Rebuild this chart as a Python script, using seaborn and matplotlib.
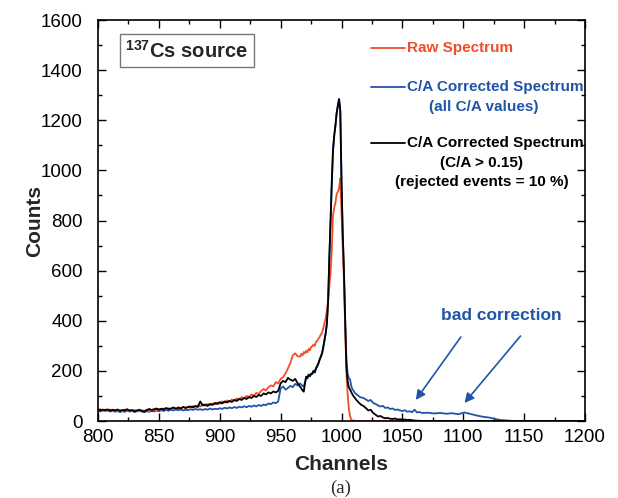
import numpy as np
import pandas as pd
import matplotlib
matplotlib.use("Agg")
import matplotlib.pyplot as plt
from matplotlib.lines import Line2D
from matplotlib.ticker import MultipleLocator
import seaborn as sns

# ---------------- data ----------------
ch_a = list(range(800, 966, 2))
ch_b = list(range(966, 1017, 1))
ch_c = list(range(1018, 1067, 2))
ch_d = list(range(1071, 1197, 5)) + [1200]
channels = ch_a + ch_b + ch_c + ch_d

raw_a = [44, 47, 42,
         45, 42, 46, 40, 44, 38, 43, 41, 46, 40, 43, 39, 44, 41, 38, 43, 40, 45, 39, 44,
         47, 43, 48, 45, 50, 46, 51, 47, 52, 49, 55, 51, 56, 52, 58, 54, 60, 56, 62, 58,
         66, 61, 68, 63, 70, 66, 74, 69, 78, 73, 82, 77, 86, 81, 90, 86, 95, 90, 100, 96,
         106, 101, 112, 108, 120, 128, 122, 135, 142, 138, 155, 150, 168, 175, 190, 210, 232, 262, 270, 258]
raw_b = [257, 268, 262, 275, 270, 280, 274, 288, 282, 295, 298, 305, 300, 315, 320, 328, 335, 345, 352, 370,
         390, 410, 440, 480, 540, 590, 680, 820, 850, 870, 905, 915, 930, 968, 830, 700, 560, 380, 200, 110,
         50, 20, 6, 2, 1, 1, 0, 0, 0, 0, 0]
raw_c = [0] * 25
raw_d = [0] * 27
raw = raw_a + raw_b + raw_c + raw_d

blue_a = [41, 38, 42,
          40, 42, 38, 41, 37, 40, 36, 39, 37, 41, 38, 40, 36, 39, 42, 38, 35, 39, 37, 40,
          38, 42, 39, 43, 40, 44, 41, 45, 42, 46, 43, 46, 42, 45, 43, 47, 44, 48, 45, 47,
          44, 48, 45, 50, 46, 49, 47, 51, 48, 53, 50, 54, 51, 56, 52, 57, 54, 59, 55, 60,
          57, 62, 58, 64, 60, 66, 63, 70, 67, 74, 71, 78, 130, 138, 125, 132, 140, 135, 148, 142]
blue_b = [150, 145, 140, 137, 155, 172, 170, 183, 178, 186, 188, 198, 193, 208, 218, 228, 243, 256, 268, 292,
          320, 348, 388, 478, 645, 795, 945, 1075, 1135, 1175, 1225, 1255, 1280, 1235, 955, 745, 600, 410, 250, 190,
          170, 166, 140, 126, 120, 112, 108, 104, 100, 96, 94]
blue_c = [92, 86, 80, 84, 72, 68, 62, 58, 60, 52, 54, 48, 50, 44, 46, 42, 40, 43, 37, 39,
          35, 45, 34, 36, 32]
blue_d = [33, 30, 32, 29, 31, 27, 34, 28, 22, 17, 14, 8, 4, 2,
          0, 0, 0, 0, 0, 0, 0, 0, 0, 0, 0, 0, 0]
blue = blue_a + blue_b + blue_c + blue_d

black_a = [46, 43, 45,
           44, 46, 41, 45, 42, 46, 40, 44, 42, 47, 41, 44, 38, 42, 45, 40, 38, 43, 48, 44,
           46, 50, 45, 49, 46, 52, 47, 50, 54, 49, 53, 50, 56, 52, 55, 58, 54, 60, 56, 78,
           62, 66, 60, 68, 64, 72, 68, 75, 70, 78, 74, 80, 76, 84, 80, 88, 84, 92, 88, 95,
           92, 100, 96, 104, 100, 110, 106, 114, 110, 118, 114, 120, 150, 160, 155, 172, 165, 160, 168, 150]
black_b = [137, 130, 122, 117, 150, 177, 172, 185, 180, 188, 190, 200, 195, 210, 220, 230, 245, 258, 270, 295,
           323, 350, 390, 480, 650, 800, 950, 1080, 1140, 1180, 1230, 1260, 1285, 1240, 960, 750, 600, 400, 220, 160,
           135, 126, 115, 106, 98, 92, 85, 80, 74, 70, 65]
black_c = [60, 52, 42, 45, 32, 25, 18, 20, 14, 11, 12, 9, 8, 10, 6, 7, 5, 6, 4, 5,
           3, 2, 1, 1, 0]
black_d = [0] * 27
black = black_a + black_b + black_c + black_d

series_names = ["C/A Corrected Spectrum (all C/A values)", "Raw Spectrum",
                "C/A Corrected Spectrum (C/A > 0.15)"]
RED = "#f04e2a"
BLUE = "#1f55a6"
BLACK = "#000000"

df = pd.DataFrame({
    "Channels": channels * 3,
    "Counts": blue + raw + black,
    "series": [series_names[0]] * len(channels) + [series_names[1]] * len(channels)
              + [series_names[2]] * len(channels),
})

# ---------------- style ----------------
sns.set_theme(style="ticks")
plt.rcParams["font.family"] = ["Liberation Sans", "DejaVu Sans"]
plt.rcParams["mathtext.fontset"] = "custom"
plt.rcParams["mathtext.rm"] = "Liberation Sans:bold"
plt.rcParams["mathtext.bf"] = "Liberation Sans:bold"

fig = plt.figure(figsize=(6.18, 4.98), dpi=100)
ax = fig.add_axes([98 / 618, 1 - 421 / 498, (585 - 98) / 618, (421 - 20) / 498])

sns.lineplot(data=df, x="Channels", y="Counts", hue="series", hue_order=series_names,
             palette=[BLUE, RED, BLACK], linewidth=1.3, legend=False, ax=ax,
             estimator=None, sort=False)

ax.set_xlim(800, 1200)
ax.set_ylim(0, 1600)
ax.xaxis.set_major_locator(MultipleLocator(50))
ax.xaxis.set_minor_locator(MultipleLocator(25))
ax.yaxis.set_major_locator(MultipleLocator(200))
ax.yaxis.set_minor_locator(MultipleLocator(100))
ax.tick_params(which="both", direction="in", top=True, right=True, width=1.0,
               labelsize=13.5, colors="black")
ax.tick_params(which="major", length=6)
ax.tick_params(which="minor", length=3)
ax.tick_params(axis="x", which="major", pad=6)
ax.tick_params(axis="y", which="major", pad=11)
for s in ax.spines.values():
    s.set_linewidth(1.2)
    s.set_color("black")

ax.set_xlabel("Channels", fontsize=15, fontweight="bold")
ax.set_ylabel("Counts", fontsize=15, fontweight="bold")
ax.xaxis.label.set_va("center")
ax.xaxis.set_label_coords(0.5, (421 - 465) / 401)
ax.yaxis.label.set_va("center")
ax.yaxis.set_label_coords((35 - 98) / 487, 0.5)

fig.text(341 / 618, 1 - 488 / 498, "(a)", ha="center", va="center",
         fontsize=13.5, family="Liberation Serif")

# source label box
ax.text(0.056, 0.924, r"$^{137}$Cs source", transform=ax.transAxes,
        fontsize=14.5, fontweight="bold", ha="left", va="center",
        bbox=dict(boxstyle="square,pad=0.28", fc="white", ec="#777777", lw=1.0))

# manual legend
def px2ax(x, y):
    return ((x - 98) / (585 - 98), (421 - y) / (421 - 20))

for ypix, col in [(48.3, RED), (86.7, BLUE), (142.7, BLACK)]:
    x0, yy = px2ax(371, ypix)
    x1, _ = px2ax(405, ypix)
    ax.add_line(Line2D([x0, x1], [yy, yy], color=col, lw=1.3, transform=ax.transAxes))

def put(xpix, ypix, s, col, ha="left"):
    xa, ya = px2ax(xpix, ypix)
    ax.text(xa, ya, s, transform=ax.transAxes, color=col, fontsize=11,
            fontweight="bold", ha=ha, va="center")

put(407, 48.3, "Raw Spectrum", RED)
put(407, 86.7, "C/A Corrected Spectrum", BLUE)
put(484, 107, "(all C/A values)", BLUE, ha="center")
put(407, 142.7, "C/A Corrected Spectrum", BLACK)
put(482, 162.5, "(C/A > 0.15)", BLACK, ha="center")
put(482, 182, "(rejected events = 10 %)", BLACK, ha="center")

# bad correction annotation
ax.text(1131, 420, "bad correction", color=BLUE, fontsize=12.5, fontweight="bold",
        ha="center", va="center")
for (xt, yt, xh, yh) in [(1098, 335, 1061, 84), (1147, 339, 1101, 72)]:
    ax.annotate("", xy=(xh, yh), xytext=(xt, yt),
                arrowprops=dict(arrowstyle="-|>", color=BLUE, lw=1.2,
                                mutation_scale=14, shrinkA=0, shrinkB=0))

fig.savefig("out.png", dpi=100, facecolor="white")
